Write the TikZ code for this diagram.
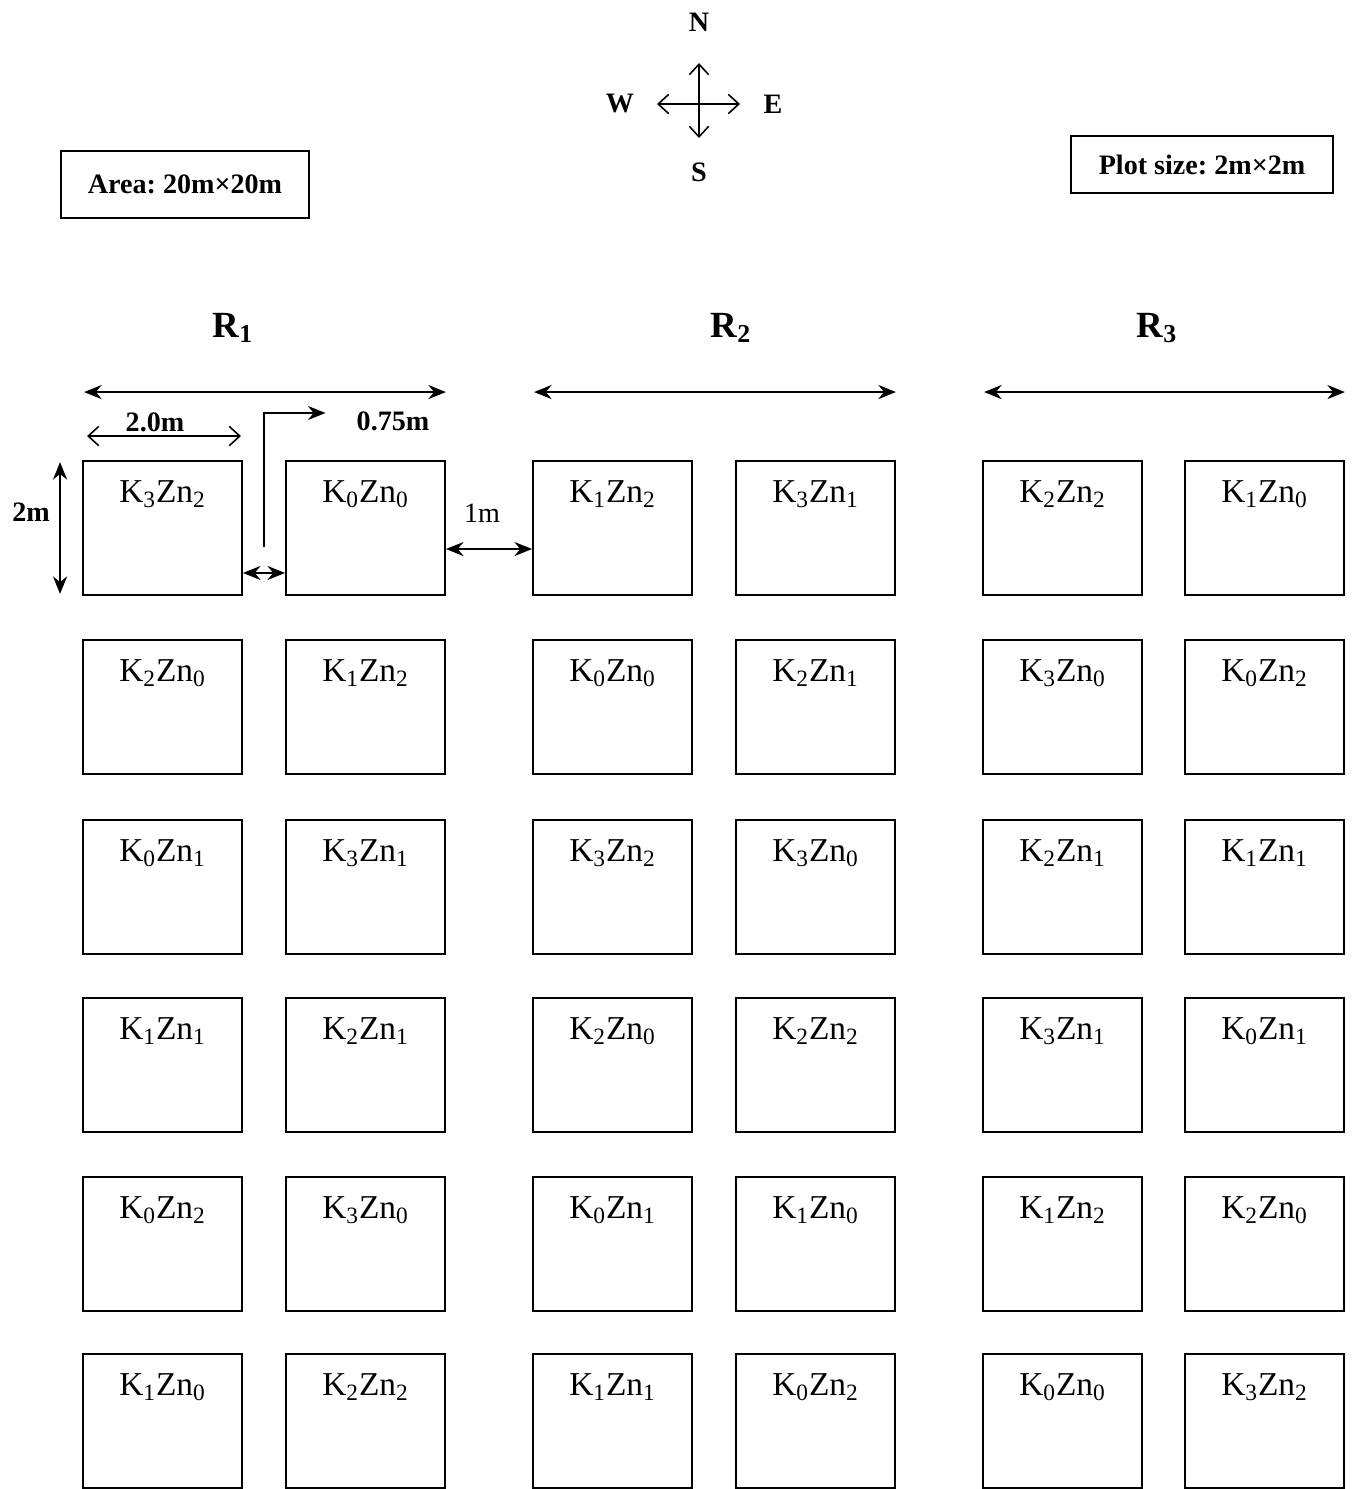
\documentclass[tikz,border=0pt]{standalone}
\usepackage{fontspec}
\setmainfont{Liberation Serif}
\usetikzlibrary{arrows.meta}
\usetikzlibrary{calc}
\frenchspacing

\begin{document}
\begin{tikzpicture}[x=0.02cm,y=-0.02cm]
    \useasboundingbox (0,0) rectangle (1355,1489);

    \begin{scope}[every node/.style={draw,line width=1.1pt,minimum width=3.18cm,minimum height=2.68cm,inner sep=0pt}]
        \foreach \c/\x in {1/83,2/286,3/533,4/736,5/983,6/1185}{
            \foreach \r/\y in {1/461,2/640,3/820,4/998,5/1177,6/1354}{
                \node (p\r\c) at (\x+79.5,\y+67) {};
            }
        }
    \end{scope}

    \begin{scope}[every node/.style={font=\fontsize{19}{22}\selectfont}]
        \foreach \r/\c/\k/\z in {1/1/3/2, 1/2/0/0, 1/3/1/2, 1/4/3/1, 1/5/2/2, 1/6/1/0,
                                 2/1/2/0, 2/2/1/2, 2/3/0/0, 2/4/2/1, 2/5/3/0, 2/6/0/2,
                                 3/1/0/1, 3/2/3/1, 3/3/3/2, 3/4/3/0, 3/5/2/1, 3/6/1/1,
                                 4/1/1/1, 4/2/2/1, 4/3/2/0, 4/4/2/2, 4/5/3/1, 4/6/0/1,
                                 5/1/0/2, 5/2/3/0, 5/3/0/1, 5/4/1/0, 5/5/1/2, 5/6/2/0,
                                 6/1/1/0, 6/2/2/2, 6/3/1/1, 6/4/0/2, 6/5/0/0, 6/6/3/2}{
            \node (l\r\c) at ($(p\r\c.north)+(0,34)$) {K\textsubscript{\k}Zn\textsubscript{\z}};
        }
    \end{scope}

    \begin{scope}[every node/.style={font=\bfseries\fontsize{16}{18}\selectfont}]
        \node (N) at (699,22) {N};
        \node (S) at (699,172) {S};
        \node (W) at (620,104) {W};
        \node (E) at (773,104) {E};
        \node[draw,line width=1.1pt,minimum width=4.96cm,minimum height=1.34cm] (area) at (185,184.5) {Area: 20m×20m};
        \node[draw,line width=1.1pt,minimum width=5.24cm,minimum height=1.14cm] (plotsize) at (1202,164.5) {Plot size: 2m×2m};
        \node (twozero) at (155,422) {2.0m};
        \node (gap) at (393,421) {0.75m};
        \node (side) at (31,512) {2m};
    \end{scope}

    \begin{scope}[every node/.style={font=\bfseries\fontsize{21}{24}\selectfont}]
        \node (R1) at (233,328) {R\textsubscript{1}};
        \node (R2) at (731,328) {R\textsubscript{2}};
        \node (R3) at (1157,328) {R\textsubscript{3}};
    \end{scope}

    \node[font=\fontsize{16}{18}\selectfont] (rgap) at (482,513) {1m};

    \begin{scope}[>={Stealth[length=10pt,width=8pt]}, line width=1.1pt]
        \foreach \a/\b in {11/12,13/14,15/16}{
            \draw[<->] ($(p\a.north west)+(2,-68)$) -- ($(p\b.north east)+(0,-68)$);
        }
        \draw[<->] ($(p11.north west)+(-22,2)$) -- ($(p11.south west)+(-22,-2)$);
        \draw[<->] ($(p11.south east)+(0,-23)$) -- ($(p12.south west)+(0,-23)$);
        \draw[<->] ($(p12.east)+(0,21)$) -- ($(p13.west)+(0,21)$);
        \draw[->] ($(p11.north east)!0.5!(p12.north west)+(0,87)$) |- ($(gap.west)+(-25,-8)$);
    \end{scope}

    \begin{scope}[>={Straight Barb[length=6pt,width=11pt]}, line width=0.9pt]
        \draw[<->] ($(p11.north west)+(5,-24)$) -- ($(p11.north east)+(-2,-24)$);
        \draw[<->,shorten <=0.82cm,shorten >=0.68cm] (N.center) -- (S.center);
        \draw[<->,shorten <=0.74cm,shorten >=0.66cm] (W.center) -- (E.center);
    \end{scope}
\end{tikzpicture}
\end{document}
